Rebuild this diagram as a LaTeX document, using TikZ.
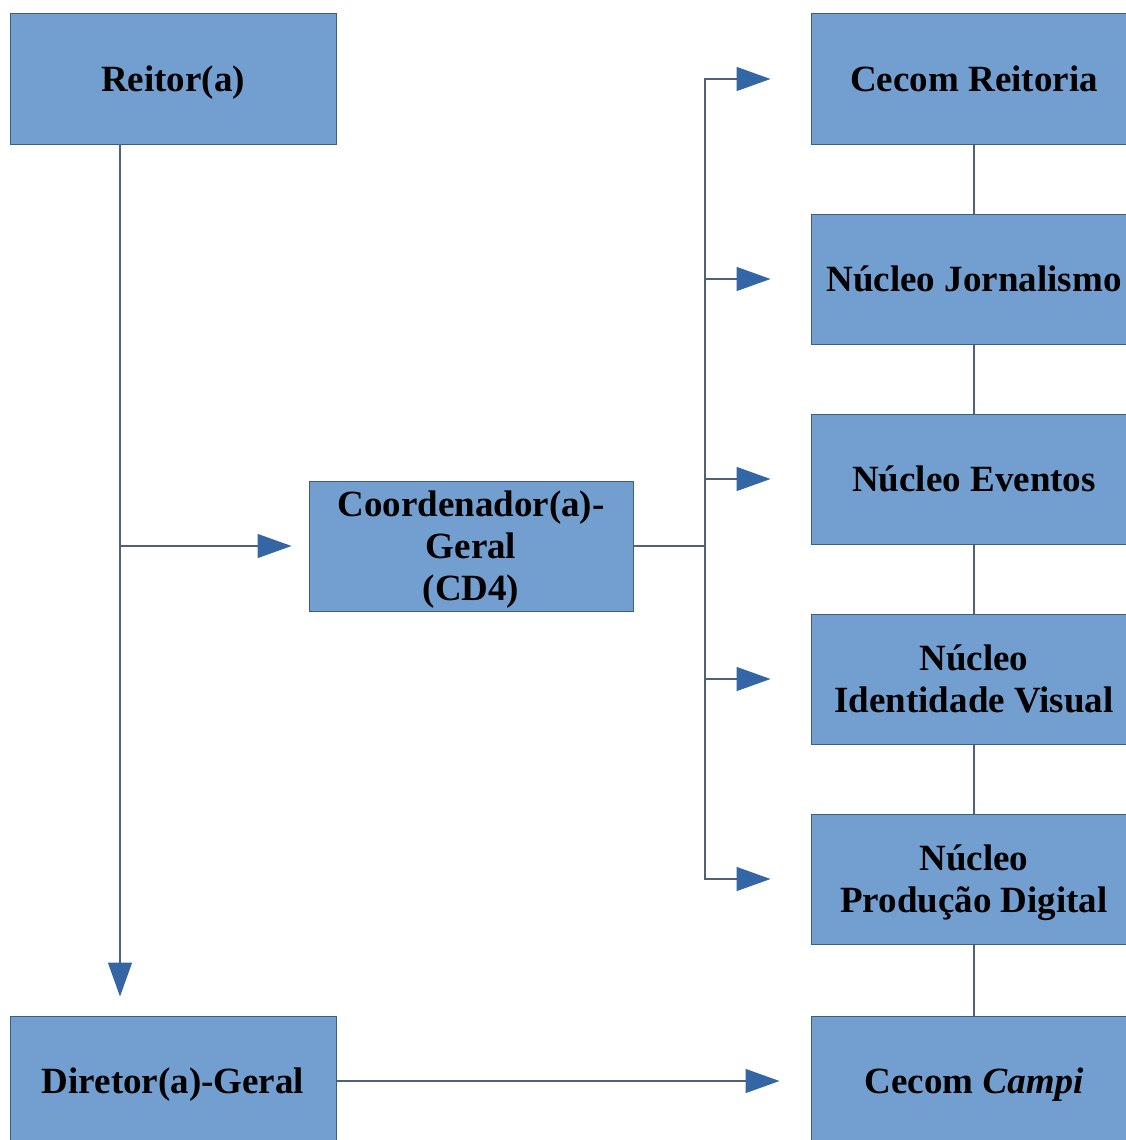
\documentclass[tikz,border=0pt]{standalone}
\usepackage{fontspec}
\setmainfont{Liberation Serif}
\usetikzlibrary{arrows.meta}

\begin{document}
\begin{tikzpicture}[x=1pt,y=-1pt,
	box/.style={draw=cborder,fill=cfill,line width=1pt,minimum width=326pt,minimum height=130pt,
		align=center,font=\fontsize{37}{42}\selectfont\bfseries,inner sep=0pt,text depth=-4pt},
	link/.style={draw=cline,line width=1.4pt},
	arr/.style={link,-{Triangle[length=34pt,width=24pt,color=carrow]}}]
\definecolor{cfill}{RGB}{114,159,207}      %blue box
\definecolor{cborder}{RGB}{62,93,130}      %box edge
\definecolor{cline}{RGB}{80,98,120}        %connector
\definecolor{carrow}{RGB}{52,101,164}      %arrow head
\useasboundingbox (0,0) rectangle (1125,1140);
% left column
\node[box] (reitor) at (173,79) {Reitor(a)};
\node[box] (diretor) at (173,1081) {Diretor(a)-Geral};
\node[box,minimum width=324pt] (coord) at (471,546) {Coordenador(a)-\\Geral\\(CD4)};
% right column
\node[box] (cecom) at (974,79) {Cecom Reitoria};
\node[box] (jorn) at (974,279) {Núcleo Jornalismo};
\node[box] (eventos) at (974,479) {Núcleo Eventos};
\node[box] (ident) at (974,679) {Núcleo\\Identidade Visual};
\node[box] (prod) at (974,879) {Núcleo\\Produção Digital};
\node[box] (campi) at (974,1081) {Cecom \textit{Campi}};
\coordinate (rt) at (120,144);
\coordinate (jn) at (705,546);
% connectors
\draw[arr,shorten >=19pt] (rt) -- (diretor.north -| rt);
\draw[arr,shorten >=17pt] (rt |- coord) -- (coord.west);
\draw[link] (coord.east) -- (jn);
\foreach \n in {cecom,jorn,eventos,ident,prod}
	\draw[arr,shorten >=40pt] (jn) |- (\n.west);
\draw[arr,shorten >=31pt] (diretor.east) -- (campi.west);
\foreach \a/\b in {cecom/jorn,jorn/eventos,eventos/ident,ident/prod,prod/campi}
	\draw[link] (\a.south) -- (\b.north);
\end{tikzpicture}
\end{document}
